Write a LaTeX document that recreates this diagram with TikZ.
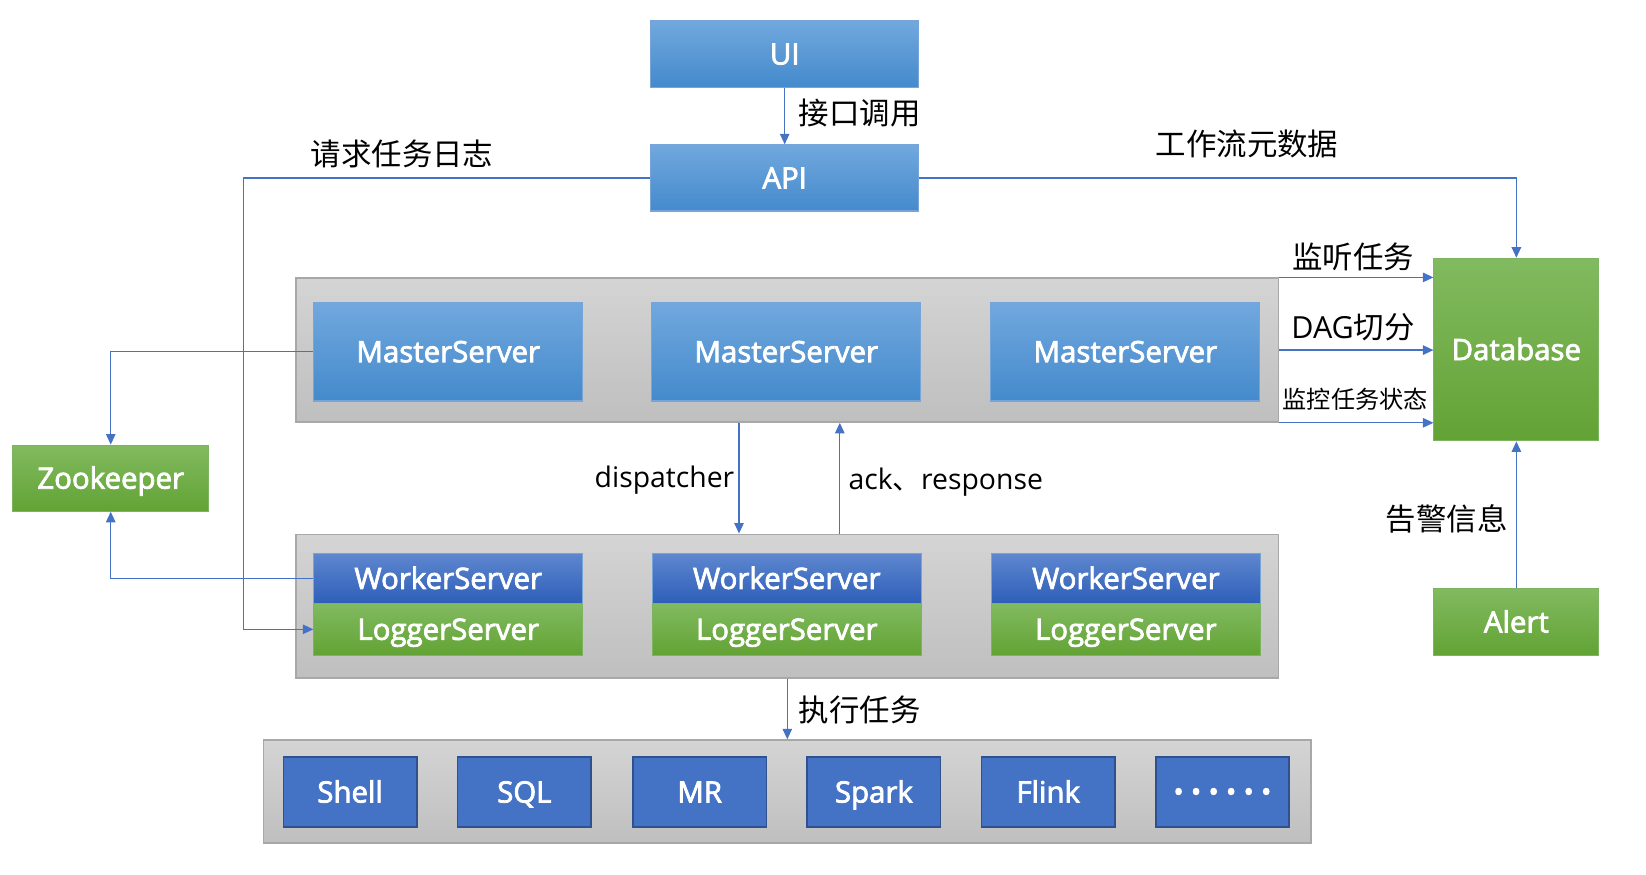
\documentclass[tikz,border=0pt]{standalone}
\usepackage{fontspec}
\setmainfont{Open Sans}
\newfontfamily\boxfont{Open Sans}[FakeBold=2.6]
\newfontfamily\cjk{Noto Sans CJK SC}
\usetikzlibrary{arrows.meta}

\definecolor{linkblue}{RGB}{68,114,196}
\definecolor{skytop}{RGB}{113,168,222}
\definecolor{skybot}{RGB}{68,138,204}
\definecolor{skyedge}{RGB}{120,165,215}
\definecolor{deeptop}{RGB}{94,135,207}
\definecolor{deepbot}{RGB}{46,94,184}
\definecolor{leaftop}{RGB}{130,186,96}
\definecolor{leafbot}{RGB}{98,163,52}
\definecolor{leafedge}{RGB}{125,180,95}
\definecolor{graytop}{RGB}{212,212,212}
\definecolor{graybot}{RGB}{191,191,191}
\definecolor{grayedge}{RGB}{168,168,168}
\definecolor{taskfill}{RGB}{68,114,196}
\definecolor{taskedge}{RGB}{47,82,143}

\tikzset{
  box/.style={inner sep=0pt, text=white, line width=1pt,
    font=\boxfont\fontsize{28}{34}\selectfont, text height=20pt, text depth=0pt},
  skybox/.style={box, top color=skytop, bottom color=skybot, draw=skyedge},
  deepbox/.style={box, top color=deeptop, bottom color=deepbot, draw=skyedge},
  leafbox/.style={box, top color=leaftop, bottom color=leafbot, draw=leafedge},
  taskbox/.style={box, fill=taskfill, draw=taskedge, line width=1.5pt,
    minimum width=127pt, minimum height=67pt},
  groupbox/.style={inner sep=0pt, top color=graytop, bottom color=graybot,
    draw=grayedge, line width=1.5pt},
  link/.style={draw=linkblue, line width=1.2pt},
  arr/.style={link, -{Triangle[width=9pt,length=10pt]}},
  cnlabel/.style={font=\cjk\fontsize{29}{34}\selectfont},
  enlabel/.style={font=\fontsize{27}{32}\selectfont}
}

\begin{document}
\begin{tikzpicture}[x=1pt,y=-1pt]
  \useasboundingbox (0,0) rectangle (1568,833);

  % groups
  \node[groupbox, minimum width=936pt, minimum height=137pt] (mgrp) at (750,333.5) {};
  \node[groupbox, minimum width=936pt, minimum height=137pt] (wgrp) at (750,577.5) {};
  \node[groupbox, minimum width=998pt, minimum height=98pt] (tgrp) at (750,754) {};

  % top
  \node[skybox, minimum width=255pt, minimum height=63pt] (ui) at (747.5,51.5) {UI};
  \node[skybox, minimum width=255pt, minimum height=63pt] (api) at (747.5,169.5) {API};

  % masters
  \node[skybox, minimum width=256pt, minimum height=94pt] (m1) at (427,335) {MasterServer};
  \node[skybox, minimum width=256pt, minimum height=94pt] (m2) at (749,335) {MasterServer};
  \node[skybox, minimum width=256pt, minimum height=94pt] (m3) at (1072,335) {MasterServer};

  % workers
  \foreach \i/\x in {1/427,2/749.5,3/1072.5} {
    \node[deepbox, minimum width=256pt, minimum height=48pt] (w\i) at (\x,551) {WorkerServer};
    \node[leafbox, minimum width=256pt, minimum height=49pt] (l\i) at (\x,599.5) {LoggerServer};
  }

  % tasks
  \foreach \name/\x [count=\i] in {Shell/333.5,SQL/499.5,MR/666.5,Spark/832.5,Flink/998.5} {
    \node[taskbox] (t\i) at (\x,754.5) {\name};
  }
  \node[taskbox, font=\boxfont\fontsize{44}{44}\selectfont, text height=30pt] (t6) at (1164.5,754.5) {·\hspace{5pt}·\hspace{5pt}·\hspace{5pt}·\hspace{5pt}·\hspace{5pt}·};

  % side boxes
  \node[leafbox, minimum width=157pt, minimum height=174pt] (db) at (1444.5,333) {Database};
  \node[leafbox, minimum width=187pt, minimum height=63pt] (zk) at (105.5,455.5) {Zookeeper};
  \node[leafbox, minimum width=157pt, minimum height=63pt] (alert) at (1444.5,592.5) {Alert};

  % connectors
  \coordinate (lcol) at (232,169.5);
  \draw[arr] (ui) -- (api);
  \draw[arr] (api.west) -- (lcol) |- (l1.west);
  \draw[arr] (api.east) -| (db.north);
  \draw[arr] (mgrp.north east) -- (mgrp.north east -| db.west);
  \draw[arr] (mgrp.east) -- (mgrp.east -| db.west);
  \draw[arr] (mgrp.south east) -- (mgrp.south east -| db.west);
  \draw[arr] (m1.west) -| (zk.north);
  \draw[arr] (w1.west) -| (zk.south);
  \draw[arr] ([xshift=-46pt]mgrp.south) -- ([xshift=-46pt]wgrp.north);
  \draw[arr] ([xshift=50pt]wgrp.north) -- ([xshift=50pt]mgrp.south);
  \draw[arr] (wgrp.south) -- (tgrp.north);
  \draw[arr] (alert) -- (db);

  % labels
  \node[cnlabel] (callapi) at (819,108) {接口调用};
  \node[cnlabel] (reqlog) at (383,147) {请求任务日志};
  \node[cnlabel] (wfmeta) at (1188,137) {工作流元数据};
  \node[cnlabel] (listen) at (1289,245) {监听任务};
  \node[cnlabel] (dagcut) at (1289,312) {\fontspec{Open Sans}DAG\cjk 切分};
  \node[cnlabel, font=\cjk\fontsize{23}{28}\selectfont] (monitor) at (1291,380) {监控任务状态};
  \node[enlabel] (dispatch) at (633,457) {dispatcher};
  \node[enlabel] (ackresp) at (901,459) {ack{\cjk 、}response};
  \node[cnlabel] (exec) at (819,676) {执行任务};
  \node[cnlabel] (warn) at (1378,494) {告警信息};
\end{tikzpicture}
\end{document}
